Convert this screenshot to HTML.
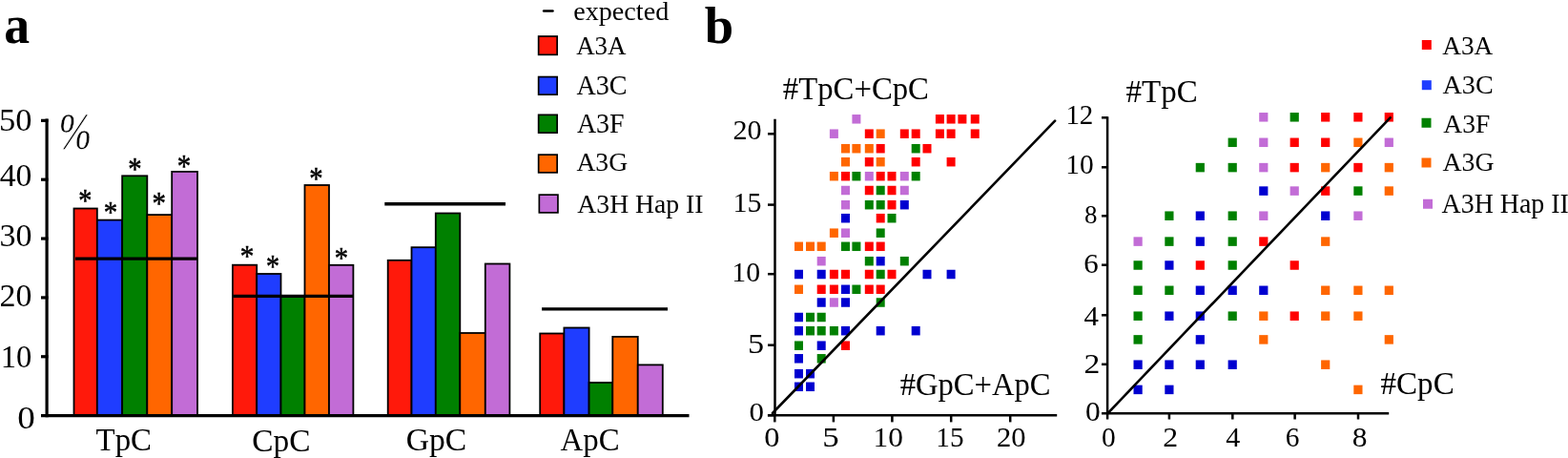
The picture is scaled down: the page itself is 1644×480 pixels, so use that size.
<!DOCTYPE html>
<html><head><meta charset="utf-8"><title>Figure</title>
<style>
html,body{margin:0;padding:0;background:#fff;}
body{width:1644px;height:480px;overflow:hidden;}
svg{display:block;}
svg text{font-family:"Liberation Serif", "Times New Roman", serif;fill:#000;}
</style></head>
<body>
<svg width="1644" height="480" viewBox="0 0 1644 480">
<rect width="1644" height="480" fill="#fff"/>
<path d="M49.1 124.6 V437.2" stroke="#000" stroke-width="3.2" fill="none"/>
<path d="M43 373.75 H50.5" stroke="#000" stroke-width="3.2"/>
<path d="M43 311.90 H50.5" stroke="#000" stroke-width="3.2"/>
<path d="M43 250.05 H50.5" stroke="#000" stroke-width="3.2"/>
<path d="M43 188.20 H50.5" stroke="#000" stroke-width="3.2"/>
<path d="M43 126.35 H50.5" stroke="#000" stroke-width="3.2"/>
<rect x="77.50" y="218.50" width="24.35" height="217.10" fill="#FF190B" stroke="#000" stroke-width="1.8"/>
<rect x="101.85" y="230.60" width="26.30" height="205.00" fill="#1F3DFF" stroke="#000" stroke-width="1.8"/>
<rect x="128.15" y="184.30" width="26.15" height="251.30" fill="#008000" stroke="#000" stroke-width="1.8"/>
<rect x="154.30" y="225.10" width="25.90" height="210.50" fill="#FF6600" stroke="#000" stroke-width="1.8"/>
<rect x="180.20" y="179.90" width="26.80" height="255.70" fill="#C26CD6" stroke="#000" stroke-width="1.8"/>
<path d="M79 271.1 H207" stroke="#000" stroke-width="3.3"/>
<rect x="243.90" y="277.70" width="25.30" height="157.90" fill="#FF190B" stroke="#000" stroke-width="1.8"/>
<rect x="269.20" y="287.00" width="25.30" height="148.60" fill="#1F3DFF" stroke="#000" stroke-width="1.8"/>
<rect x="294.50" y="310.50" width="25.00" height="125.10" fill="#008000" stroke="#000" stroke-width="1.8"/>
<rect x="319.50" y="194.00" width="25.50" height="241.60" fill="#FF6600" stroke="#000" stroke-width="1.8"/>
<rect x="345.00" y="277.80" width="25.40" height="157.80" fill="#C26CD6" stroke="#000" stroke-width="1.8"/>
<path d="M243.3 310.4 H370.2" stroke="#000" stroke-width="3.3"/>
<rect x="406.70" y="272.80" width="24.80" height="162.80" fill="#FF190B" stroke="#000" stroke-width="1.8"/>
<rect x="431.50" y="259.20" width="25.30" height="176.40" fill="#1F3DFF" stroke="#000" stroke-width="1.8"/>
<rect x="456.80" y="223.50" width="25.50" height="212.10" fill="#008000" stroke="#000" stroke-width="1.8"/>
<rect x="482.30" y="349.00" width="26.50" height="86.60" fill="#FF6600" stroke="#000" stroke-width="1.8"/>
<rect x="508.80" y="276.50" width="25.60" height="159.10" fill="#C26CD6" stroke="#000" stroke-width="1.8"/>
<path d="M403.3 213.75 H530" stroke="#000" stroke-width="3.3"/>
<rect x="566.20" y="349.50" width="25.20" height="86.10" fill="#FF190B" stroke="#000" stroke-width="1.8"/>
<rect x="591.40" y="343.50" width="26.20" height="92.10" fill="#1F3DFF" stroke="#000" stroke-width="1.8"/>
<rect x="617.60" y="401.00" width="24.70" height="34.60" fill="#008000" stroke="#000" stroke-width="1.8"/>
<rect x="642.30" y="352.90" width="26.45" height="82.70" fill="#FF6600" stroke="#000" stroke-width="1.8"/>
<rect x="668.75" y="382.40" width="26.05" height="53.20" fill="#C26CD6" stroke="#000" stroke-width="1.8"/>
<path d="M568.1 323.9 H700" stroke="#000" stroke-width="3.3"/>
<path d="M43 435.6 H722.5" stroke="#000" stroke-width="3.2"/>
<path d="M570.1 11.5 H579.5" stroke="#000" stroke-width="2.5" stroke-linecap="round"/>
<rect x="564.65" y="38.05" width="19.50" height="19.30" fill="#FF190B" stroke="#000" stroke-width="1.7"/>
<rect x="564.65" y="80.55" width="19.50" height="18.60" fill="#1F3DFF" stroke="#000" stroke-width="1.7"/>
<rect x="564.65" y="120.35" width="19.50" height="18.80" fill="#008000" stroke="#000" stroke-width="1.7"/>
<rect x="564.65" y="162.15" width="19.50" height="18.70" fill="#FF6600" stroke="#000" stroke-width="1.7"/>
<rect x="565.35" y="204.15" width="19.60" height="18.70" fill="#C26CD6" stroke="#000" stroke-width="1.7"/>
<path d="M812.5 124.8 V435.2" stroke="#000" stroke-width="2.5" fill="none"/>
<path d="M804.9 435.2 H1108.2" stroke="#000" stroke-width="2.5"/>
<path d="M805 140.30 H812.5" stroke="#000" stroke-width="2.5"/>
<path d="M805 214.60 H812.5" stroke="#000" stroke-width="2.5"/>
<path d="M805 287.20 H812.5" stroke="#000" stroke-width="2.5"/>
<path d="M805 361.70 H812.5" stroke="#000" stroke-width="2.5"/>
<path d="M805 435.20 H812.5" stroke="#000" stroke-width="2.5"/>
<path d="M812.30 435.2 V442.4" stroke="#000" stroke-width="2.5"/>
<path d="M873.90 435.2 V442.4" stroke="#000" stroke-width="2.5"/>
<path d="M935.40 435.2 V442.4" stroke="#000" stroke-width="2.5"/>
<path d="M997.20 435.2 V442.4" stroke="#000" stroke-width="2.5"/>
<path d="M1059.20 435.2 V442.4" stroke="#000" stroke-width="2.5"/>
<rect x="893.40" y="120.05" width="9.0" height="9.5" fill="#C26CD6"/>
<rect x="980.90" y="120.05" width="9.0" height="9.5" fill="#FF0000"/>
<rect x="992.60" y="120.05" width="9.0" height="9.5" fill="#FF0000"/>
<rect x="1004.40" y="120.05" width="9.0" height="9.5" fill="#FF0000"/>
<rect x="1017.75" y="120.05" width="9.0" height="9.5" fill="#FF0000"/>
<rect x="869.90" y="135.45" width="9.0" height="9.5" fill="#C26CD6"/>
<rect x="906.80" y="135.45" width="9.0" height="9.5" fill="#FF0000"/>
<rect x="918.70" y="135.45" width="9.0" height="9.5" fill="#FF6600"/>
<rect x="943.80" y="135.45" width="9.0" height="9.5" fill="#FF0000"/>
<rect x="955.70" y="135.45" width="9.0" height="9.5" fill="#FF0000"/>
<rect x="980.90" y="135.45" width="9.0" height="9.5" fill="#FF0000"/>
<rect x="992.60" y="135.45" width="9.0" height="9.5" fill="#FF0000"/>
<rect x="1017.75" y="135.45" width="9.0" height="9.5" fill="#FF0000"/>
<rect x="882.00" y="150.95" width="9.0" height="9.5" fill="#FF6600"/>
<rect x="893.40" y="150.95" width="9.0" height="9.5" fill="#FF6600"/>
<rect x="906.80" y="150.95" width="9.0" height="9.5" fill="#FF6600"/>
<rect x="918.70" y="150.95" width="9.0" height="9.5" fill="#FF0000"/>
<rect x="955.70" y="150.95" width="9.0" height="9.5" fill="#008000"/>
<rect x="967.50" y="150.95" width="9.0" height="9.5" fill="#FF0000"/>
<rect x="882.00" y="164.95" width="9.0" height="9.5" fill="#FF6600"/>
<rect x="906.80" y="164.95" width="9.0" height="9.5" fill="#FF0000"/>
<rect x="918.70" y="164.95" width="9.0" height="9.5" fill="#FF6600"/>
<rect x="955.70" y="164.95" width="9.0" height="9.5" fill="#FF0000"/>
<rect x="992.60" y="164.95" width="9.0" height="9.5" fill="#FF0000"/>
<rect x="869.90" y="179.95" width="9.0" height="9.5" fill="#FF6600"/>
<rect x="882.00" y="179.95" width="9.0" height="9.5" fill="#FF0000"/>
<rect x="893.40" y="179.95" width="9.0" height="9.5" fill="#008000"/>
<rect x="906.80" y="179.95" width="9.0" height="9.5" fill="#C26CD6"/>
<rect x="918.70" y="179.95" width="9.0" height="9.5" fill="#FF0000"/>
<rect x="930.50" y="179.95" width="9.0" height="9.5" fill="#FF0000"/>
<rect x="943.80" y="179.95" width="9.0" height="9.5" fill="#C26CD6"/>
<rect x="955.70" y="179.95" width="9.0" height="9.5" fill="#008000"/>
<rect x="882.00" y="194.75" width="9.0" height="9.5" fill="#C26CD6"/>
<rect x="906.80" y="194.75" width="9.0" height="9.5" fill="#FF0000"/>
<rect x="918.70" y="194.75" width="9.0" height="9.5" fill="#008000"/>
<rect x="930.50" y="194.75" width="9.0" height="9.5" fill="#FF0000"/>
<rect x="943.80" y="194.75" width="9.0" height="9.5" fill="#C26CD6"/>
<rect x="882.00" y="209.95" width="9.0" height="9.5" fill="#C26CD6"/>
<rect x="906.80" y="209.95" width="9.0" height="9.5" fill="#008000"/>
<rect x="918.70" y="209.95" width="9.0" height="9.5" fill="#008000"/>
<rect x="930.50" y="209.95" width="9.0" height="9.5" fill="#FF0000"/>
<rect x="943.80" y="209.95" width="9.0" height="9.5" fill="#0000D0"/>
<rect x="882.00" y="223.95" width="9.0" height="9.5" fill="#0000D0"/>
<rect x="918.70" y="223.95" width="9.0" height="9.5" fill="#FF0000"/>
<rect x="930.50" y="223.95" width="9.0" height="9.5" fill="#008000"/>
<rect x="869.90" y="239.45" width="9.0" height="9.5" fill="#FF6600"/>
<rect x="882.00" y="239.45" width="9.0" height="9.5" fill="#C26CD6"/>
<rect x="918.70" y="239.45" width="9.0" height="9.5" fill="#008000"/>
<rect x="833.00" y="253.55" width="9.0" height="9.5" fill="#FF6600"/>
<rect x="845.00" y="253.55" width="9.0" height="9.5" fill="#FF6600"/>
<rect x="856.70" y="253.55" width="9.0" height="9.5" fill="#FF6600"/>
<rect x="882.00" y="253.55" width="9.0" height="9.5" fill="#008000"/>
<rect x="893.40" y="253.55" width="9.0" height="9.5" fill="#008000"/>
<rect x="906.80" y="253.55" width="9.0" height="9.5" fill="#FF0000"/>
<rect x="918.70" y="253.55" width="9.0" height="9.5" fill="#FF0000"/>
<rect x="856.70" y="268.95" width="9.0" height="9.5" fill="#C26CD6"/>
<rect x="906.80" y="268.95" width="9.0" height="9.5" fill="#008000"/>
<rect x="918.70" y="268.95" width="9.0" height="9.5" fill="#0000D0"/>
<rect x="943.80" y="268.95" width="9.0" height="9.5" fill="#008000"/>
<rect x="833.00" y="282.75" width="9.0" height="9.5" fill="#0000D0"/>
<rect x="856.70" y="282.75" width="9.0" height="9.5" fill="#0000D0"/>
<rect x="869.90" y="282.75" width="9.0" height="9.5" fill="#FF0000"/>
<rect x="882.00" y="282.75" width="9.0" height="9.5" fill="#FF0000"/>
<rect x="906.80" y="282.75" width="9.0" height="9.5" fill="#FF0000"/>
<rect x="918.70" y="282.75" width="9.0" height="9.5" fill="#008000"/>
<rect x="930.50" y="282.75" width="9.0" height="9.5" fill="#FF0000"/>
<rect x="967.50" y="282.75" width="9.0" height="9.5" fill="#0000D0"/>
<rect x="992.60" y="282.75" width="9.0" height="9.5" fill="#0000D0"/>
<rect x="833.00" y="298.55" width="9.0" height="9.5" fill="#FF6600"/>
<rect x="856.70" y="298.55" width="9.0" height="9.5" fill="#FF0000"/>
<rect x="869.90" y="298.55" width="9.0" height="9.5" fill="#FF0000"/>
<rect x="882.00" y="298.55" width="9.0" height="9.5" fill="#0000D0"/>
<rect x="893.40" y="298.55" width="9.0" height="9.5" fill="#008000"/>
<rect x="906.80" y="298.55" width="9.0" height="9.5" fill="#FF0000"/>
<rect x="918.70" y="298.55" width="9.0" height="9.5" fill="#FF0000"/>
<rect x="856.70" y="312.25" width="9.0" height="9.5" fill="#0000D0"/>
<rect x="869.90" y="312.25" width="9.0" height="9.5" fill="#C26CD6"/>
<rect x="882.00" y="312.25" width="9.0" height="9.5" fill="#0000D0"/>
<rect x="918.70" y="312.25" width="9.0" height="9.5" fill="#008000"/>
<rect x="833.00" y="327.75" width="9.0" height="9.5" fill="#0000D0"/>
<rect x="845.00" y="327.75" width="9.0" height="9.5" fill="#008000"/>
<rect x="856.70" y="327.75" width="9.0" height="9.5" fill="#008000"/>
<rect x="833.00" y="341.95" width="9.0" height="9.5" fill="#0000D0"/>
<rect x="845.00" y="341.95" width="9.0" height="9.5" fill="#008000"/>
<rect x="856.70" y="341.95" width="9.0" height="9.5" fill="#008000"/>
<rect x="869.90" y="341.95" width="9.0" height="9.5" fill="#008000"/>
<rect x="882.00" y="341.95" width="9.0" height="9.5" fill="#0000D0"/>
<rect x="918.70" y="341.95" width="9.0" height="9.5" fill="#0000D0"/>
<rect x="955.70" y="341.95" width="9.0" height="9.5" fill="#0000D0"/>
<rect x="833.00" y="357.45" width="9.0" height="9.5" fill="#008000"/>
<rect x="856.70" y="357.45" width="9.0" height="9.5" fill="#0000D0"/>
<rect x="882.00" y="357.45" width="9.0" height="9.5" fill="#FF0000"/>
<rect x="833.00" y="371.05" width="9.0" height="9.5" fill="#0000D0"/>
<rect x="856.70" y="371.05" width="9.0" height="9.5" fill="#008000"/>
<rect x="833.00" y="386.95" width="9.0" height="9.5" fill="#0000D0"/>
<rect x="845.00" y="386.95" width="9.0" height="9.5" fill="#0000D0"/>
<rect x="833.00" y="400.55" width="9.0" height="9.5" fill="#0000D0"/>
<rect x="845.00" y="400.55" width="9.0" height="9.5" fill="#0000D0"/>
<path d="M1161.1 122.2 V433.3" stroke="#000" stroke-width="2.5" fill="none"/>
<path d="M1155 433.3 H1456.2" stroke="#000" stroke-width="2.5"/>
<path d="M1155 123.30 H1161.3" stroke="#000" stroke-width="2.5"/>
<path d="M1155 175.30 H1161.3" stroke="#000" stroke-width="2.5"/>
<path d="M1155 226.30 H1161.3" stroke="#000" stroke-width="2.5"/>
<path d="M1155 277.70 H1161.3" stroke="#000" stroke-width="2.5"/>
<path d="M1155 330.30 H1161.3" stroke="#000" stroke-width="2.5"/>
<path d="M1155 381.80 H1161.3" stroke="#000" stroke-width="2.5"/>
<path d="M1161.10 433.3 V439.5" stroke="#000" stroke-width="2.5"/>
<path d="M1225.90 433.3 V439.5" stroke="#000" stroke-width="2.5"/>
<path d="M1292.30 433.3 V439.5" stroke="#000" stroke-width="2.5"/>
<path d="M1357.60 433.3 V439.5" stroke="#000" stroke-width="2.5"/>
<path d="M1424.00 433.3 V439.5" stroke="#000" stroke-width="2.5"/>
<rect x="1320.20" y="118.05" width="9.2" height="9.5" fill="#C26CD6"/>
<rect x="1352.60" y="118.05" width="9.2" height="9.5" fill="#008000"/>
<rect x="1385.10" y="118.05" width="9.2" height="9.5" fill="#FF0000"/>
<rect x="1419.30" y="118.05" width="9.2" height="9.5" fill="#FF0000"/>
<rect x="1451.70" y="118.05" width="9.2" height="9.5" fill="#FF0000"/>
<rect x="1287.60" y="144.55" width="9.2" height="9.5" fill="#008000"/>
<rect x="1320.20" y="144.55" width="9.2" height="9.5" fill="#C26CD6"/>
<rect x="1352.60" y="144.55" width="9.2" height="9.5" fill="#FF0000"/>
<rect x="1385.10" y="144.55" width="9.2" height="9.5" fill="#FF0000"/>
<rect x="1419.30" y="144.55" width="9.2" height="9.5" fill="#FF6600"/>
<rect x="1451.70" y="144.55" width="9.2" height="9.5" fill="#C26CD6"/>
<rect x="1253.70" y="170.85" width="9.2" height="9.5" fill="#008000"/>
<rect x="1287.60" y="170.85" width="9.2" height="9.5" fill="#008000"/>
<rect x="1320.20" y="170.85" width="9.2" height="9.5" fill="#C26CD6"/>
<rect x="1352.60" y="170.85" width="9.2" height="9.5" fill="#FF0000"/>
<rect x="1385.10" y="170.85" width="9.2" height="9.5" fill="#FF6600"/>
<rect x="1419.30" y="170.85" width="9.2" height="9.5" fill="#FF0000"/>
<rect x="1451.70" y="170.85" width="9.2" height="9.5" fill="#FF6600"/>
<rect x="1320.20" y="195.35" width="9.2" height="9.5" fill="#0000D0"/>
<rect x="1352.60" y="195.35" width="9.2" height="9.5" fill="#C26CD6"/>
<rect x="1385.10" y="195.35" width="9.2" height="9.5" fill="#FF0000"/>
<rect x="1419.30" y="195.35" width="9.2" height="9.5" fill="#008000"/>
<rect x="1451.70" y="195.35" width="9.2" height="9.5" fill="#FF6600"/>
<rect x="1221.30" y="221.45" width="9.2" height="9.5" fill="#008000"/>
<rect x="1253.70" y="221.45" width="9.2" height="9.5" fill="#0000D0"/>
<rect x="1287.60" y="221.45" width="9.2" height="9.5" fill="#008000"/>
<rect x="1320.20" y="221.45" width="9.2" height="9.5" fill="#C26CD6"/>
<rect x="1385.10" y="221.45" width="9.2" height="9.5" fill="#0000D0"/>
<rect x="1419.30" y="221.45" width="9.2" height="9.5" fill="#C26CD6"/>
<rect x="1188.50" y="248.35" width="9.2" height="9.5" fill="#C26CD6"/>
<rect x="1221.30" y="248.35" width="9.2" height="9.5" fill="#008000"/>
<rect x="1253.70" y="248.35" width="9.2" height="9.5" fill="#0000D0"/>
<rect x="1287.60" y="248.35" width="9.2" height="9.5" fill="#008000"/>
<rect x="1320.20" y="248.35" width="9.2" height="9.5" fill="#FF0000"/>
<rect x="1385.10" y="248.35" width="9.2" height="9.5" fill="#FF6600"/>
<rect x="1188.50" y="273.25" width="9.2" height="9.5" fill="#008000"/>
<rect x="1221.30" y="273.25" width="9.2" height="9.5" fill="#0000D0"/>
<rect x="1253.70" y="273.25" width="9.2" height="9.5" fill="#FF0000"/>
<rect x="1287.60" y="273.25" width="9.2" height="9.5" fill="#008000"/>
<rect x="1352.60" y="273.25" width="9.2" height="9.5" fill="#FF0000"/>
<rect x="1188.50" y="299.55" width="9.2" height="9.5" fill="#008000"/>
<rect x="1221.30" y="299.55" width="9.2" height="9.5" fill="#008000"/>
<rect x="1253.70" y="299.55" width="9.2" height="9.5" fill="#0000D0"/>
<rect x="1287.60" y="299.55" width="9.2" height="9.5" fill="#0000D0"/>
<rect x="1320.20" y="299.55" width="9.2" height="9.5" fill="#0000D0"/>
<rect x="1385.10" y="299.55" width="9.2" height="9.5" fill="#FF6600"/>
<rect x="1419.30" y="299.55" width="9.2" height="9.5" fill="#FF6600"/>
<rect x="1451.70" y="299.55" width="9.2" height="9.5" fill="#FF6600"/>
<rect x="1188.50" y="326.45" width="9.2" height="9.5" fill="#008000"/>
<rect x="1221.30" y="326.45" width="9.2" height="9.5" fill="#0000D0"/>
<rect x="1253.70" y="326.45" width="9.2" height="9.5" fill="#0000D0"/>
<rect x="1287.60" y="326.45" width="9.2" height="9.5" fill="#008000"/>
<rect x="1320.20" y="326.45" width="9.2" height="9.5" fill="#FF6600"/>
<rect x="1352.60" y="326.45" width="9.2" height="9.5" fill="#FF0000"/>
<rect x="1385.10" y="326.45" width="9.2" height="9.5" fill="#FF6600"/>
<rect x="1419.30" y="326.45" width="9.2" height="9.5" fill="#FF6600"/>
<rect x="1188.50" y="351.15" width="9.2" height="9.5" fill="#008000"/>
<rect x="1253.70" y="351.15" width="9.2" height="9.5" fill="#0000D0"/>
<rect x="1320.20" y="351.15" width="9.2" height="9.5" fill="#FF6600"/>
<rect x="1451.70" y="351.15" width="9.2" height="9.5" fill="#FF6600"/>
<rect x="1188.50" y="377.45" width="9.2" height="9.5" fill="#0000D0"/>
<rect x="1221.30" y="377.45" width="9.2" height="9.5" fill="#0000D0"/>
<rect x="1253.70" y="377.45" width="9.2" height="9.5" fill="#0000D0"/>
<rect x="1287.60" y="377.45" width="9.2" height="9.5" fill="#0000D0"/>
<rect x="1385.10" y="377.45" width="9.2" height="9.5" fill="#FF6600"/>
<rect x="1188.50" y="403.65" width="9.2" height="9.5" fill="#0000D0"/>
<rect x="1221.30" y="403.65" width="9.2" height="9.5" fill="#0000D0"/>
<rect x="1419.30" y="403.65" width="9.2" height="9.5" fill="#FF6600"/>
<path d="M810 433 L1106.1 126.7" stroke="#000" stroke-width="2.6" stroke-linecap="round"/>
<path d="M1161.3 433.3 L1457.6 123.3" stroke="#000" stroke-width="2.6" stroke-linecap="round"/>
<rect x="1490.8" y="42" width="10" height="10" fill="#FF0000"/>
<rect x="1490.8" y="84.2" width="10" height="10" fill="#1F3DFF"/>
<rect x="1490.5" y="123.75" width="10" height="10" fill="#008000"/>
<rect x="1490.5" y="165.5" width="10" height="10" fill="#FF6600"/>
<rect x="1492" y="208.75" width="10" height="10" fill="#C26CD6"/>
<text transform="translate(4.19 44.83) scale(0.939 1)" font-size="57.29" font-weight="bold">a</text>
<text transform="translate(738.85 45.46) scale(1.009 1)" font-size="54.14" font-weight="bold">b</text>
<text transform="translate(-0.97 137.02) scale(1.017 1)" font-size="33.88">50</text>
<text x="-0.27" y="194.83" font-size="33.73">40</text>
<text transform="translate(-0.60 258.33) scale(1.024 1)" font-size="33.28">30</text>
<text transform="translate(-0.46 321.43) scale(1.019 1)" font-size="33.28">20</text>
<text x="0.65" y="384.95" font-size="32.65">10</text>
<text transform="translate(18.21 448.63) scale(1.116 1)" font-size="33.28">0</text>
<text transform="translate(61.39 156.11) scale(0.767 1)" font-size="54.48" stroke="#fff" stroke-width="0.6" font-style="italic">%</text>
<text transform="translate(100.59 472.10) scale(0.984 1)" font-size="33.38">TpC</text>
<text transform="translate(264.16 472.60) scale(0.987 1)" font-size="33.85">CpC</text>
<text transform="translate(425.65 472.40) scale(0.972 1)" font-size="34.62">GpC</text>
<text transform="translate(587.57 472.40) scale(0.977 1)" font-size="33.64">ApC</text>
<text transform="translate(601.27 20.55) scale(1.011 1)" font-size="27.83">expected</text>
<text transform="translate(604.13 56.58) scale(0.991 1)" font-size="27.24">A3A</text>
<text transform="translate(604.42 98.82) scale(0.971 1)" font-size="28.97">A3C</text>
<text transform="translate(604.92 138.81) scale(0.981 1)" font-size="28.51">A3F</text>
<text x="604.42" y="178.85" font-size="27.65">A3G</text>
<text transform="translate(605.32 222.93) scale(0.992 1)" font-size="27.93">A3H Hap II</text>
<text transform="translate(820.85 104.32) scale(0.945 1)" font-size="34.65">#TpC+CpC</text>
<text transform="translate(943.65 413.53) scale(0.956 1)" font-size="34.14">#GpC+ApC</text>
<text transform="translate(1180.59 106.65) scale(0.967 1)" font-size="34.07">#TpC</text>
<text transform="translate(1447.54 413.22) scale(0.967 1)" font-size="34.19">#CpC</text>
<text transform="translate(1512.23 57.02) scale(0.978 1)" font-size="27.91">A3A</text>
<text transform="translate(1512.52 98.19) scale(1.006 1)" font-size="28.01">A3C</text>
<text transform="translate(1513.32 139.12) scale(0.982 1)" font-size="28.06">A3F</text>
<text transform="translate(1512.52 178.54) scale(0.989 1)" font-size="28.09">A3G</text>
<text transform="translate(1511.52 223.47) scale(0.942 1)" font-size="29.66">A3H Hap II</text>
<text transform="translate(768.40 146.32) scale(1.040 1)" font-size="28.96">20</text>
<text transform="translate(768.56 221.61) scale(1.034 1)" font-size="28.96">15</text>
<text transform="translate(767.32 294.63) scale(1.038 1)" font-size="28.68">10</text>
<text transform="translate(784.05 369.91) scale(1.177 1)" font-size="29.09">5</text>
<text transform="translate(785.56 440.76) scale(1.146 1)" font-size="27.01">0</text>
<text transform="translate(801.30 467.51) scale(1.107 1)" font-size="29.25">0</text>
<text transform="translate(862.30 467.80) scale(1.179 1)" font-size="29.70">5</text>
<text transform="translate(915.58 467.52) scale(1.089 1)" font-size="28.82">10</text>
<text x="981.36" y="467.81" font-size="29.25">15</text>
<text transform="translate(1044.98 467.51) scale(1.044 1)" font-size="29.25">20</text>
<text x="1117.38" y="130.00" font-size="28.94">12</text>
<text x="1117.25" y="182.41" font-size="29.41">10</text>
<text transform="translate(1137.02 234.34) scale(0.959 1)" font-size="28.06">8</text>
<text transform="translate(1136.16 285.60) scale(1.036 1)" font-size="29.85">6</text>
<text transform="translate(1136.38 340.60) scale(1.029 1)" font-size="30.00">4</text>
<text transform="translate(1136.40 390.70) scale(1.150 1)" font-size="29.23">2</text>
<text transform="translate(1137.94 440.52) scale(1.085 1)" font-size="28.96">0</text>
<text x="1155.03" y="467.61" font-size="29.40">0</text>
<text transform="translate(1219.33 468.20) scale(1.048 1)" font-size="30.31">2</text>
<text transform="translate(1285.20 468.20) scale(0.990 1)" font-size="30.31">4</text>
<text x="1347.82" y="467.61" font-size="29.40">6</text>
<text transform="translate(1417.74 467.61) scale(1.069 1)" font-size="29.40">8</text>
<text transform="translate(82.19 220.69) scale(0.855 1)" font-size="33.06" stroke="#000" stroke-width="0.55">*</text>
<text transform="translate(108.66 233.33) scale(0.885 1)" font-size="32.50" stroke="#000" stroke-width="0.55">*</text>
<text transform="translate(134.16 187.85) scale(0.855 1)" font-size="33.61" stroke="#000" stroke-width="0.55">*</text>
<text transform="translate(159.56 224.39) scale(0.870 1)" font-size="33.06" stroke="#000" stroke-width="0.55">*</text>
<text transform="translate(185.81 185.04) scale(0.852 1)" font-size="33.75" stroke="#000" stroke-width="0.55">*</text>
<text transform="translate(251.64 279.12) scale(0.900 1)" font-size="32.50" stroke="#000" stroke-width="0.55">*</text>
<text transform="translate(279.10 289.79) scale(0.847 1)" font-size="33.06" stroke="#000" stroke-width="0.55">*</text>
<text transform="translate(324.36 197.61) scale(0.841 1)" font-size="34.17" stroke="#000" stroke-width="0.55">*</text>
<text transform="translate(350.68 280.63) scale(0.881 1)" font-size="32.36" stroke="#000" stroke-width="0.55">*</text>
</svg>
</body></html>
